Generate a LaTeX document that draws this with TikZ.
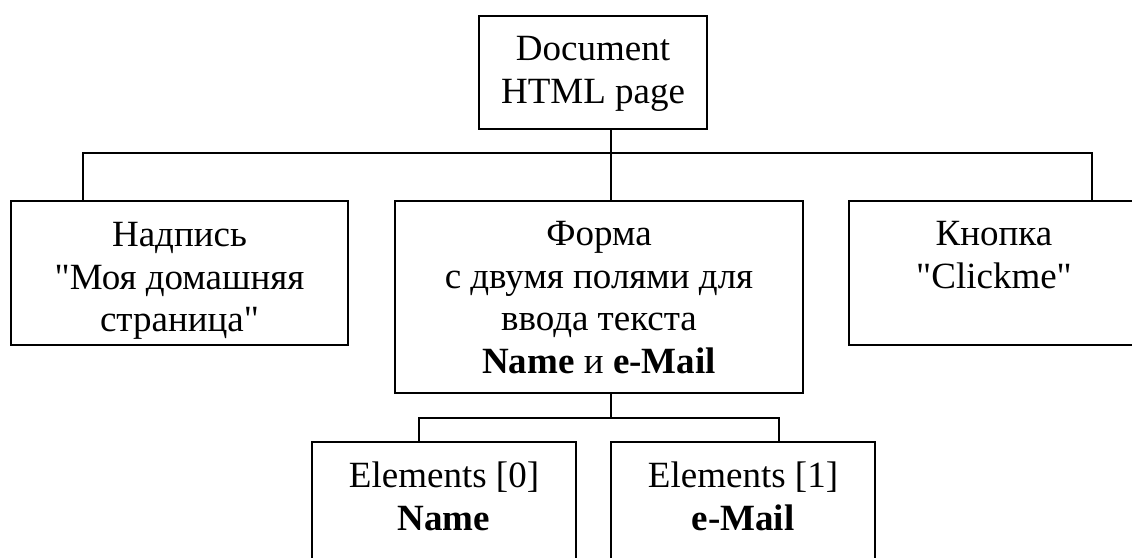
\documentclass[tikz,border=0pt]{standalone}
\usepackage{fontspec}
\setmainfont{Liberation Serif}[Ligatures=TeXOff]
\begin{document}
\begin{tikzpicture}[x=1pt,y=-1pt,
  box/.style={draw, line width=1.1pt, rectangle, inner sep=0pt, outer sep=0pt, anchor=north west},
  txt/.style={inner sep=0pt, outer sep=0pt, anchor=north, align=center, font=\fontsize{37pt}{42.5pt}\selectfont},
  conn/.style={line width=1.1pt}]
\useasboundingbox (0,0) rectangle (1132,557);
% boxes
\node[box, minimum width=228pt, minimum height=113pt] (top) at (479,16) {};
\node[box, minimum width=337pt, minimum height=144pt] (left) at (11,201) {};
\node[box, minimum width=408pt, minimum height=192pt] (mid) at (395,201) {};
\node[box, minimum width=290pt, minimum height=144pt] (right) at (849,201) {};
\node[box, minimum width=264pt, minimum height=130pt] (b0) at (312,442) {};
\node[box, minimum width=264pt, minimum height=130pt] (b1) at (611,442) {};
% texts
\node[txt] (top-t) at ([yshift=-20.5pt]top.north) {Document\\HTML page};
\node[txt] (left-t) at ([yshift=-21.5pt]left.north) {Надпись\\"Моя домашняя\\страница"};
\node[txt] (mid-t) at ([yshift=-20.5pt]mid.north) {Форма\\с двумя полями для\\ввода текста\\\textbf{Name} и \textbf{e-Mail}};
\node[txt] (right-t) at ([yshift=-20.5pt]right.north) {Кнопка\\"Clickme"};
\node[txt] (b0-t) at ([yshift=-20pt]b0.north) {Elements [0]\\\textbf{Name}};
\node[txt] (b1-t) at ([yshift=-20pt]b1.north) {Elements [1]\\\textbf{e-Mail}};
% junctions
\coordinate (j0) at (611,153);
\coordinate (lj) at (83,153);
\coordinate (rj) at (1092,153);
\coordinate (sj) at (611,418);
\coordinate (sl) at (419,418);
\coordinate (sr) at (779,418);
% connectors
\draw[conn] (top.south -| j0) -- (j0 |- mid.north);
\draw[conn] (left.north -| lj) -- (lj) -- (rj) -- (right.north -| rj);
\draw[conn] (mid.south -| sj) -- (sj);
\draw[conn] (b0.north -| sl) -- (sl) -- (sr) -- (b1.north -| sr);
\end{tikzpicture}
\end{document}
